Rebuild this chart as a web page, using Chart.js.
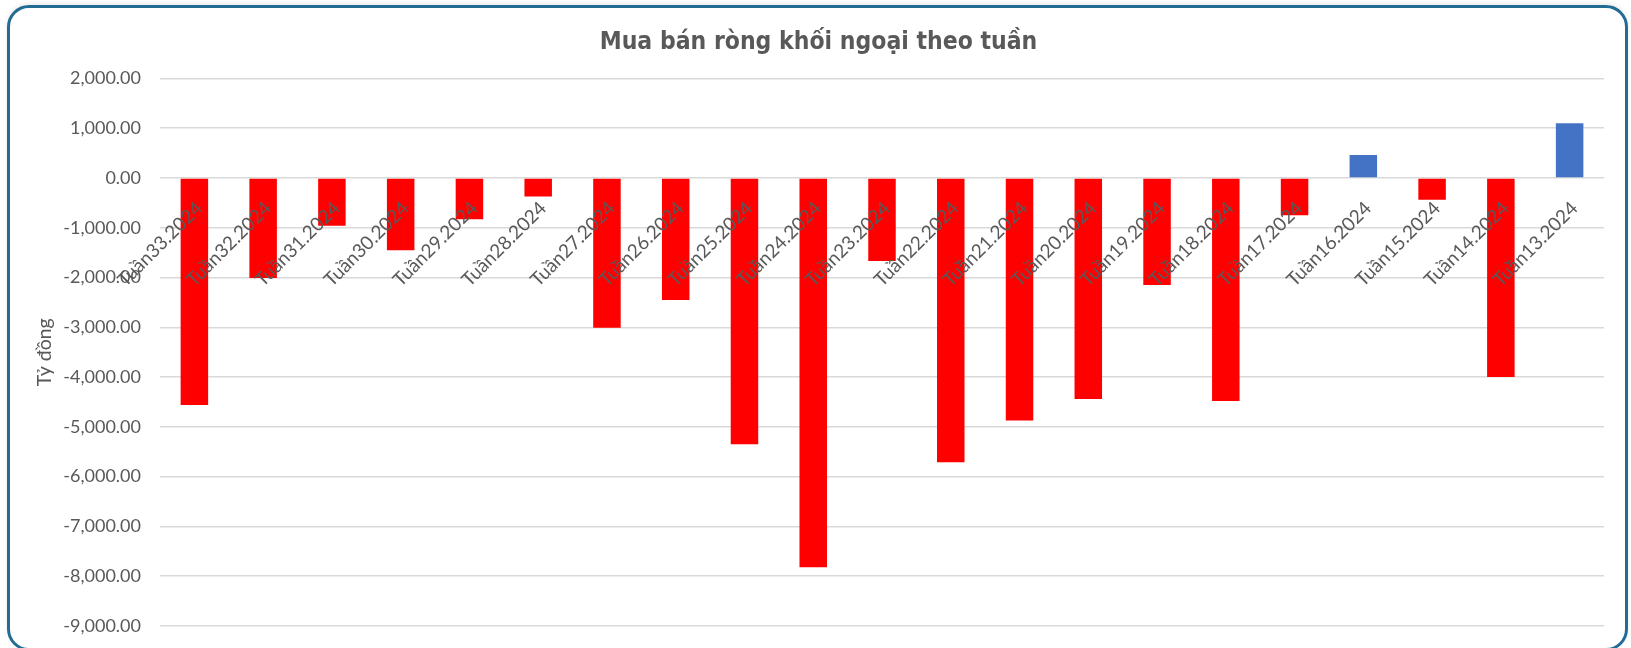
<!DOCTYPE html>
<html>
<head>
<meta charset="utf-8">
<script src="https://cdn.jsdelivr.net/npm/chart.js@4.4.1/dist/chart.umd.min.js"></script>
<style>
  html, body { margin: 0; padding: 0; background: #ffffff; }
  #wrap { position: relative; width: 1631px; height: 648px; overflow: hidden; }
  #frame {
    position: absolute; left: 7px; top: 5px; width: 1615px; height: 640px;
    border: 3px solid #226c94; border-radius: 22px; box-sizing: content-box;
    pointer-events: none; box-shadow: 0 -2px 4px rgba(0,0,0,0.08);
  }
  canvas { position: absolute; left: 0; top: 0; }
</style>
</head>
<body>
<div id="wrap">
  <canvas id="c" width="1631" height="648"></canvas>
  <div id="frame"></div>
</div>
<script>
const categories = ["Tuần33.2024","Tuần32.2024","Tuần31.2024","Tuần30.2024","Tuần29.2024","Tuần28.2024","Tuần27.2024","Tuần26.2024","Tuần25.2024","Tuần24.2024","Tuần23.2024","Tuần22.2024","Tuần21.2024","Tuần20.2024","Tuần19.2024","Tuần18.2024","Tuần17.2024","Tuần16.2024","Tuần15.2024","Tuần14.2024","Tuần13.2024"];
const netValues = [-4560,-2010,-960,-1450,-830,-370,-3010,-2450,-5350,-7820,-1670,-5710,-4870,-4440,-2150,-4480,-750,460,-440,-4000,1100];
const yMin = -9000, yMax = 2000, yStep = 1000;
const chartTitle = "Mua bán ròng khối ngoại theo tuần";
const yTitle = "Tỷ đồng";

const BLUE = "#4472c4", RED = "#ff0000", TEXT = "#595959";
const fmt = new Intl.NumberFormat("en-US", {minimumFractionDigits: 2, maximumFractionDigits: 2});

new Chart(document.getElementById("c"), {
  type: "bar",
  data: {
    labels: categories,
    datasets: [{
      data: netValues,
      backgroundColor: netValues.map(v => v >= 0 ? BLUE : RED),
      borderWidth: 0,
      categoryPercentage: 1.0,
      barPercentage: 0.4
    }]
  },
  options: {
    responsive: false,
    animation: false,
    layout: { padding: { left: 33, right: 27, top: 0, bottom: 22 } },
    plugins: {
      legend: { display: false },
      tooltip: { enabled: false },
      title: {
        display: true,
        text: chartTitle,
        color: TEXT,
        font: { family: "'DejaVu Sans Condensed', 'DejaVu Sans', sans-serif", size: 24.5, weight: "bold" },
        padding: { top: 28, bottom: 21 }
      }
    },
    scales: {
      x: {
        position: { y: 0 },
        grid: { display: false, drawTicks: true, tickLength: 13, tickColor: "rgba(0,0,0,0)" },
        border: { display: false },
        ticks: {
          z: 1,
          color: TEXT,
          font: { family: "Lato, sans-serif", size: 19 },
          minRotation: 45, maxRotation: 45,
          autoSkip: false,
          labelOffset: 5,
          padding: 6
        }
      },
      y: {
        min: yMin, max: yMax,
        afterFit: (s) => { s.width = 127; s.paddingTop = 0; s.paddingBottom = 0; },
        grid: { color: "#d9d9d9", lineWidth: 1.5, drawTicks: false },
        border: { display: false },
        ticks: {
          stepSize: yStep,
          color: TEXT,
          padding: 19,
          font: { family: "Lato, sans-serif", size: 18 },
          callback: (v) => fmt.format(v)
        },
        title: {
          display: true,
          text: yTitle,
          color: TEXT,
          font: { family: "Lato, sans-serif", size: 19.5 },
          padding: { top: 0, bottom: 0 }
        }
      }
    }
  }
});
</script>
</body>
</html>
